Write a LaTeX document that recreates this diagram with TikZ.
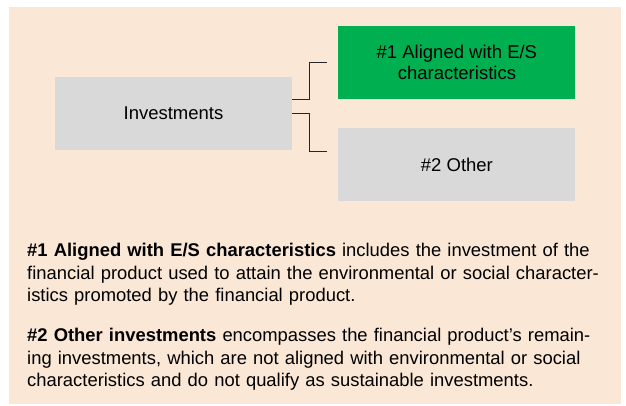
\documentclass[tikz,border=0pt]{standalone}
\usepackage{fontspec}
\setmainfont{Liberation Sans}
\usepackage{tikz}
\usetikzlibrary{positioning}
\definecolor{peach}{RGB}{250,231,214}
\definecolor{esgreen}{RGB}{0,176,80}
\definecolor{boxgray}{RGB}{217,217,217}
\tikzstyle{line} = [draw, line width=1pt, black!85]
\tikzstyle{block} = [rectangle, fill=boxgray, align=center, minimum width=237pt, minimum height=73pt, inner sep=0pt, font=\fontsize{18.5}{20.5}\selectfont]
\tikzstyle{greenblock} = [block, fill=esgreen]
\tikzstyle{para} = [anchor=north west, inner sep=0pt, text width=600pt, align=left, font=\fontsize{18.4}{22.5}\selectfont]

\begin{document}
\begin{tikzpicture}[x=1pt, y=1pt]
        \useasboundingbox (0,0) rectangle (626,405);
        \fill[peach] (9,1) rectangle (621,398);
        \node[block] (inv) at (173.5,291.5) {Investments};
        \node[greenblock, right=46pt of inv, yshift=51pt] (aligned) {\#1 Aligned with E/S\\characteristics};
        \node[block, below=29pt of aligned] (other) {\#2 Other};
        \path[line] ([yshift=13.5pt]inv.east) -- ++(17,0) |- ([xshift=-11pt]aligned.west);
        \path[line] (inv.east) -- ++(17,0) |- ([xshift=-11pt, yshift=13.5pt]other.west);
        \node[para] (p1) at (27,162) {\textbf{\#1 Aligned with E/S characteristics} includes the investment of the\\financial product used to attain the environmental or social character-\\istics promoted by the financial product.};
        \node[para] (p2) at (27,77) {\textbf{\#2 Other investments} encompasses the financial product’s remain-\\ing investments, which are not aligned with environmental or social\\characteristics and do not qualify as sustainable investments.};
    \end{tikzpicture}
\end{document}
